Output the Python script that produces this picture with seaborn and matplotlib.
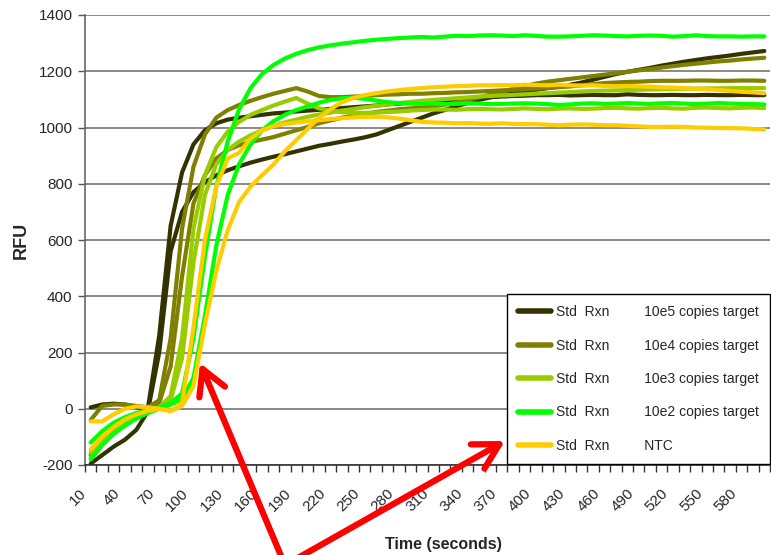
#!/usr/bin/env python
"""Real-time RFU curves for the standard reactions, two replicates per dilution"""
import numpy as np
import pandas as pd
import matplotlib
matplotlib.use('Agg')
import matplotlib.pyplot as plt
import matplotlib.transforms as mtrans
import seaborn as sns

#BEGIN DATA

time_s = list(range(10, 601, 10))
tick_labels = [str(t) for t in range(10, 581, 30)]

samples = ['10e5 copies target', '10e4 copies target', '10e3 copies target',
           '10e2 copies target', 'NTC']
colors = ['#333300', '#808000', '#99CC00', '#00FF00', '#FFCC00']

# 10e5 replicates
e5_a = [5, 15, 18, 15, 5, 0, 260, 650, 840, 940, 990, 1015, 1028, 1035, 1040, 1045, 1050, 1053, 1057, 1060,
        1063, 1066, 1069, 1072, 1075, 1078, 1082, 1085, 1088, 1090, 1093, 1096, 1099, 1102, 1105, 1108, 1110, 1112, 1113, 1115,
        1115, 1116, 1114, 1115, 1116, 1115, 1115, 1118, 1116, 1115, 1115, 1116, 1115, 1115, 1116, 1115, 1115, 1116, 1115, 1115]
e5_b = [-195, -165, -135, -110, -75, -10, 200, 560, 700, 770, 805, 830, 848, 862, 875, 886, 896, 905, 915, 925,
        935, 942, 950, 957, 965, 975, 990, 1005, 1020, 1035, 1050, 1062, 1075, 1087, 1098, 1107, 1115, 1122, 1128, 1134,
        1140, 1146, 1152, 1160, 1170, 1180, 1190, 1198, 1205, 1212, 1220, 1227, 1234, 1240, 1246, 1251, 1256, 1262, 1267, 1272]
# 10e4 replicates
e4_a = [-40, 10, 15, 15, 10, 5, 30, 250, 640, 860, 975, 1035, 1062, 1080, 1095, 1108, 1120, 1130, 1140, 1128,
        1112, 1108, 1108, 1110, 1112, 1115, 1117, 1118, 1120, 1120, 1122, 1123, 1125, 1126, 1128, 1130, 1132, 1134, 1136, 1138,
        1140, 1143, 1146, 1150, 1154, 1158, 1160, 1162, 1163, 1165, 1166, 1166, 1166, 1167, 1167, 1166, 1166, 1167, 1167, 1166]
e4_b = [-165, -110, -70, -40, -20, -5, 20, 150, 470, 730, 830, 890, 920, 937, 948, 957, 966, 978, 990, 1002,
        1015, 1025, 1035, 1042, 1048, 1055, 1060, 1065, 1068, 1072, 1076, 1081, 1088, 1097, 1107, 1117, 1127, 1137, 1147, 1156,
        1163, 1168, 1173, 1178, 1183, 1188, 1193, 1198, 1203, 1208, 1213, 1218, 1223, 1227, 1231, 1235, 1238, 1242, 1245, 1248]
# 10e3 replicates
e3_a = [-155, -110, -75, -50, -30, -12, 5, 45, 250, 640, 830, 930, 985, 1020, 1045, 1062, 1078, 1092, 1105, 1085,
        1068, 1060, 1055, 1052, 1052, 1053, 1055, 1057, 1060, 1062, 1064, 1064, 1063, 1065, 1066, 1065, 1064, 1066, 1068, 1066,
        1065, 1067, 1068, 1066, 1067, 1069, 1070, 1068, 1067, 1069, 1070, 1068, 1067, 1070, 1071, 1069, 1068, 1070, 1071, 1069]
e3_b = [-175, -125, -85, -55, -32, -15, 0, 30, 180, 520, 760, 870, 920, 950, 972, 990, 1005, 1018, 1028, 1038,
        1046, 1053, 1060, 1066, 1072, 1077, 1082, 1087, 1091, 1095, 1098, 1101, 1104, 1107, 1110, 1112, 1114, 1116, 1118, 1120,
        1122, 1124, 1126, 1128, 1130, 1131, 1132, 1133, 1134, 1135, 1136, 1137, 1138, 1138, 1139, 1139, 1140, 1140, 1140, 1140]
# 10e2 replicates
e2_a = [-120, -80, -50, -30, -15, -5, 5, 20, 55, 250, 540, 790, 950, 1065, 1140, 1190, 1222, 1245, 1262, 1275,
        1285, 1292, 1298, 1303, 1308, 1312, 1315, 1318, 1320, 1322, 1320, 1323, 1326, 1325, 1327, 1328, 1327, 1325, 1328, 1326,
        1323, 1323, 1324, 1326, 1328, 1327, 1325, 1324, 1326, 1327, 1326, 1323, 1325, 1328, 1325, 1324, 1324, 1323, 1324, 1324]
e2_b = [-180, -130, -90, -60, -35, -15, 0, 15, 35, 110, 330, 580, 760, 870, 940, 990, 1022, 1045, 1062, 1075,
        1088, 1098, 1104, 1106, 1102, 1096, 1090, 1087, 1085, 1084, 1085, 1083, 1084, 1086, 1085, 1083, 1084, 1085, 1086, 1085,
        1083, 1080, 1082, 1085, 1086, 1084, 1085, 1087, 1085, 1084, 1086, 1087, 1085, 1083, 1085, 1087, 1085, 1084, 1083, 1082]
# NTC replicates
ntc_a = [-45, -45, -20, 0, 8, 5, 0, -8, 20, 290, 600, 790, 890, 910, 960, 990, 1005, 1012, 1018, 1022,
         1026, 1030, 1033, 1036, 1038, 1038, 1036, 1032, 1026, 1020, 1018, 1017, 1015, 1016, 1014, 1013, 1015, 1013, 1012, 1012,
         1010, 1008, 1010, 1011, 1010, 1008, 1008, 1006, 1004, 1002, 1002, 1003, 1002, 1000, 999, 998, 998, 997, 995, 993]
ntc_b = [-145, -100, -65, -38, -20, -8, 0, -8, 10, 80, 300, 490, 635, 735, 790, 830, 868, 915, 955, 995,
         1035, 1065, 1090, 1105, 1115, 1122, 1128, 1133, 1137, 1140, 1143, 1145, 1147, 1148, 1150, 1150, 1151, 1150, 1152, 1151,
         1150, 1152, 1150, 1149, 1150, 1148, 1147, 1148, 1146, 1145, 1143, 1142, 1140, 1138, 1136, 1133, 1130, 1127, 1125, 1122]

replicates = [(e5_a, e5_b), (e4_a, e4_b), (e3_a, e3_b), (e2_a, e2_b), (ntc_a, ntc_b)]

#END DATA
#BEGIN PLOTTING

sns.set_style('white')
plt.rcParams['font.family'] = ['Liberation Sans', 'DejaVu Sans']
plt.rcParams['axes.unicode_minus'] = False

fig = plt.figure(figsize=(7.71, 5.55), dpi=100)
ax = fig.add_axes([85 / 771, 90 / 555, 685 / 771, 450 / 555])

for name, col, reps in zip(samples, colors, replicates):
    for i, vals in enumerate(reps):
        lab = 'Std  Rxn         ' + name if i == 0 else None
        sns.lineplot(x=time_s, y=vals, color=col, lw=3, ax=ax, label=lab, legend=False)

ax.set_xlim(5, 605)
ax.set_ylim(-200, 1400)
ax.set_yticks(np.arange(-200, 1401, 200))
ax.set_xticks(range(10, 581, 30))
ax.set_xticklabels(tick_labels, rotation=45, ha='right', rotation_mode='anchor')
ax.set_xticks(np.arange(5, 606, 10), minor=True)
ax.tick_params(axis='x', which='major', length=0, labelsize=11, pad=14)
ax.tick_params(axis='x', which='minor', length=5, width=1, color='#333333', direction='out', bottom=True)
ax.tick_params(axis='y', length=5, width=1, color='#555555', direction='out', left=True, labelsize=11, pad=4)

# shift the slanted labels so they end left of their slot, like the original
shift = mtrans.ScaledTranslation(-12 / 100, -2 / 100, fig.dpi_scale_trans)
for lbl in ax.get_xticklabels():
    lbl.set_transform(lbl.get_transform() + shift)

ax.grid(axis='y', color='#808080', lw=1.3)
ax.set_axisbelow(True)
for side in ['top', 'right']:
    ax.spines[side].set_visible(False)
ax.spines['left'].set_color('#666666')
ax.spines['bottom'].set_color('#333333')
ax.spines['left'].set_linewidth(1.2)
ax.spines['bottom'].set_linewidth(1.2)

ax.set_ylabel('RFU', fontsize=13, fontweight='bold')
ax.yaxis.set_label_coords(-0.08, 0.5)
ax.set_xlabel('Time (seconds)', fontsize=11.5, fontweight='bold')
ax.xaxis.set_label_coords(0.523, -0.16)

leg = ax.legend(loc='lower left', bbox_to_anchor=(507 / 771, 91 / 555), bbox_transform=fig.transFigure,
                borderaxespad=0, fontsize=10, handlelength=2.4, handletextpad=0.3, labelspacing=1.4,
                frameon=True, fancybox=False, borderpad=0.8)
leg.get_frame().set_edgecolor('black')
leg.get_frame().set_linewidth(1)
leg.get_frame().set_alpha(1)
for h in leg.legend_handles:
    h.set_linewidth(4)

# red arrows drawn over the chart
arrow = dict(arrowstyle='->, head_length=0.9, head_width=0.5', color='red', lw=4.5,
             mutation_scale=20, shrinkA=0, shrinkB=0)
ax.annotate('', xy=(200 / 771, 192 / 555), xytext=(284 / 771, -8 / 555),
            xycoords='figure fraction', textcoords='figure fraction', arrowprops=arrow, annotation_clip=False)
ax.annotate('', xy=(505 / 771, 114 / 555), xytext=(296 / 771, -4 / 555),
            xycoords='figure fraction', textcoords='figure fraction', arrowprops=arrow, annotation_clip=False)

fig.savefig('out.png', dpi=100)

#END PLOTTING
